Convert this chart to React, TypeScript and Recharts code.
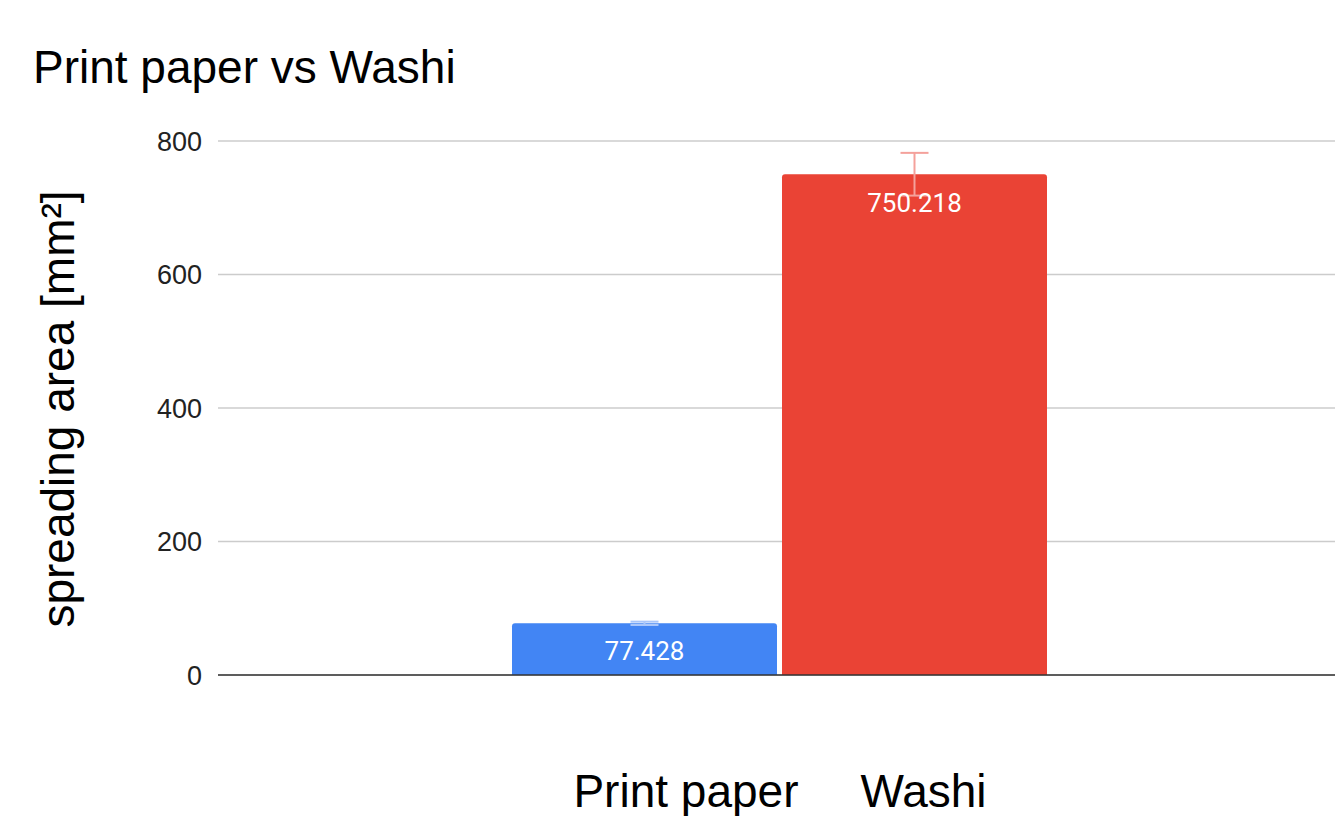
import React from 'react';
import { BarChart, Bar, XAxis, YAxis, CartesianGrid, ErrorBar, LabelList, Legend } from 'recharts';

const chartTitle = 'Print paper vs Washi';
const yAxisTitle = 'spreading area [mm²]';
const categories = ['spreading area'];
const seriesNames = ['Print paper', 'Washi'];
const printPaperValues = [77.428];
const washiValues = [750.218];
const printPaperErrors = [2.5];
const washiErrors = [32];
const yTicks = [0, 200, 400, 600, 800];

const data = categories.map((c, i) => ({
  name: c,
  print: printPaperValues[i],
  washi: washiValues[i],
  printErr: printPaperErrors[i],
  washiErr: washiErrors[i],
}));

const FONT = '"Liberation Sans", Arial, sans-serif';

const renderLegend = (props: any) => {
  const payload = props.payload || [];
  return (
    <div
      style={{
        width: 1335,
        boxSizing: 'border-box',
        paddingLeft: 225,
        display: 'flex',
        justifyContent: 'center',
        gap: 62,
        fontFamily: FONT,
        fontSize: 46,
        lineHeight: '44px',
        color: '#000',
      }}
    >
      {payload.map((p: any) => (
        <span key={p.value}>{p.value}</span>
      ))}
    </div>
  );
};

const YLabel = (props: any) => {
  const vb = props.viewBox || { x: 0, y: 0, width: 0, height: 0 };
  const cx = 74;
  const cy = vb.y + vb.height / 2 + 1;
  return (
    <text
      x={cx}
      y={cy}
      transform={`rotate(-90, ${cx}, ${cy})`}
      textAnchor="middle"
      fontFamily={FONT}
      fontSize={46}
      fill="#000"
    >
      {yAxisTitle}
    </text>
  );
};

export default function App() {
  return (
    <div style={{ position: 'absolute', left: 0, top: 0, width: 1335, height: 816, background: '#fff' }}>
      <BarChart
        width={1335}
        height={816}
        data={data}
        margin={{ top: 141, right: 0, bottom: 0, left: 0 }}
        barGap={5}
        barCategoryGap={288}
      >
        <CartesianGrid vertical={false} stroke="#cccccc" strokeWidth={1.3} />
        <XAxis
          dataKey="name"
          tick={false}
          tickLine={false}
          axisLine={{ stroke: '#333333', strokeWidth: 1.6 }}
          height={141}
          padding={{ left: 6, right: 0 }}
        />
        <YAxis
          width={218}
          domain={[0, 800]}
          ticks={yTicks}
          axisLine={false}
          tickLine={false}
          tickSize={0}
          tickMargin={16}
          tick={{ fontSize: 27, fill: '#222', fontFamily: FONT }}
          label={<YLabel />}
        />
        <Legend
          layout="horizontal"
          verticalAlign="middle"
          align="center"
          content={renderLegend}
          wrapperStyle={{ top: 769, left: 0, width: 1335 }}
        />
        <Bar dataKey="print" name={seriesNames[0]} fill="#4285f4" radius={[3, 3, 0, 0]} isAnimationActive={false}>
          <LabelList
            dataKey="print"
            position="insideTop"
            offset={18}
            fill="#ffffff"
            fontSize={26}
            fontFamily="Roboto, sans-serif"
          />
          <ErrorBar dataKey="printErr" width={14} stroke="#a9c6fa" strokeWidth={2} direction="y" />
        </Bar>
        <Bar dataKey="washi" name={seriesNames[1]} fill="#ea4335" radius={[3, 3, 0, 0]} isAnimationActive={false}>
          <LabelList
            dataKey="washi"
            position="insideTop"
            offset={19}
            fill="#ffffff"
            fontSize={26}
            fontFamily="Roboto, sans-serif"
          />
          <ErrorBar dataKey="washiErr" width={14} stroke="#f4a19b" strokeWidth={2} direction="y" />
        </Bar>
      </BarChart>
      <svg width={1335} height={130} style={{ position: 'absolute', left: 0, top: 0, pointerEvents: 'none' }}>
        <text x={33} y={83} fontFamily={FONT} fontSize={46} fill="#000">
          {chartTitle}
        </text>
      </svg>
    </div>
  );
}
